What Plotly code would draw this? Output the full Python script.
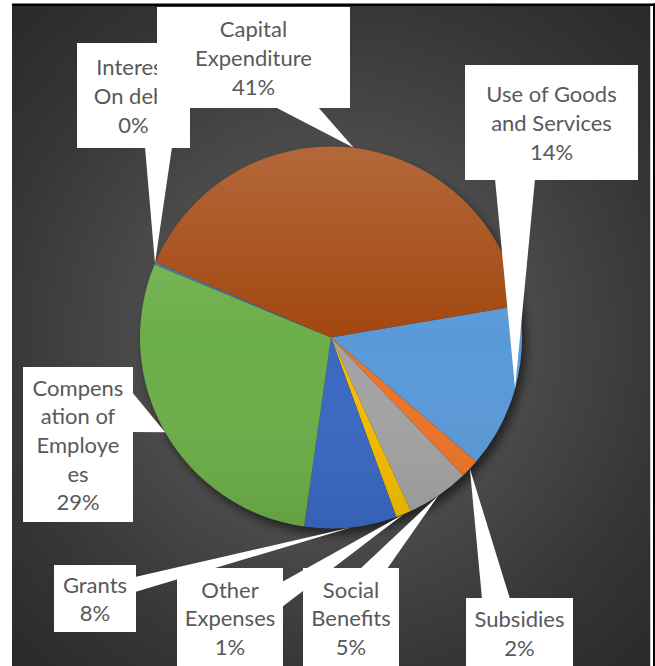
import base64
import math
import plotly.graph_objects as go

W, H = 655, 666

# ---- data -------------------------------------------------------------
categories = [
    "Capital Expenditure",
    "Use of Goods and Services",
    "Subsidies",
    "Social Benefits",
    "Other Expenses",
    "Grants",
    "Compensation of Employees",
    "Interest On debt",
]
shares = [40.9, 13.9, 1.6, 5.3, 1.3, 7.8, 29.0, 0.2]
callout_text = [
    "Capital<br>Expenditure",
    "Use of Goods<br>and Services",
    "Subsidies",
    "Social<br>Benefits",
    "Other<br>Expenses",
    "Grants",
    "Compens<br>ation of<br>Employe<br>es",
    "Interest<br>On debt",
]
slice_colors = ["#A3470F", "#5A99D8", "#EC7426", "#A3A3A3",
                "#F4BD00", "#3A68C2", "#6CAE48", "#41709F"]

# ---- layout (pixels) --------------------------------------------------
PIE_CX, PIE_CY, PIE_R = 331, 337.5, 191
ROTATION = 293.2
PANEL = (12, 6, 650.5, 666)          # dark chart area x0, y0, x1, y1

# callout boxes (x0, y0, x1, y1) and pointer base (two points on the box edge)
callouts = {
    "Capital Expenditure": ((157, 7, 350, 108), ((275, 107), (318, 107))),
    "Use of Goods and Services": ((465, 65, 638, 180), ((495, 179), (535, 179))),
    "Subsidies": ((466, 598, 573, 668), ((482, 599), (510, 599))),
    "Social Benefits": ((303, 568, 399, 668), ((360, 569), (387, 569))),
    "Other Expenses": ((177, 568, 283, 668), ((282, 582), (282, 607))),
    "Grants": ((54, 565, 136, 632), ((135, 577), (135, 592))),
    "Compensation of Employees": ((23, 367, 133, 522), ((132, 392), (132, 432))),
    "Interest On debt": ((77, 43, 190, 148), ((145, 147), (172, 147))),
}
draw_order = ["Interest On debt", "Compensation of Employees", "Grants",
              "Other Expenses", "Social Benefits", "Subsidies",
              "Use of Goods and Services", "Capital Expenditure"]

FONT = dict(family="Lato, Open Sans, sans-serif", size=22, color="#595959")


def px(x):
    return x / W


def py(y):
    return 1 - y / H


def svg_uri(markup):
    return "data:image/svg+xml;base64," + base64.b64encode(markup.encode()).decode()


# ---- background: radial gradient with a soft shadow under the pie -----
bx0, by0, bx1, by1 = PANEL
bw, bh = bx1 - bx0, by1 - by0
gcx, gcy = PIE_CX - bx0, PIE_CY - by0
bg_svg = f"""<svg xmlns="http://www.w3.org/2000/svg" width="{bw}" height="{bh}" viewBox="0 0 {bw} {bh}" preserveAspectRatio="none">
<defs>
<radialGradient id="g" gradientUnits="userSpaceOnUse" cx="{gcx}" cy="{gcy}" r="470">
<stop offset="0" stop-color="#5e5e5e"/>
<stop offset="0.42" stop-color="#4a4a4a"/>
<stop offset="0.72" stop-color="#363636"/>
<stop offset="1" stop-color="#282828"/>
</radialGradient>
<filter id="b" x="-30%" y="-30%" width="160%" height="160%"><feGaussianBlur stdDeviation="5"/></filter>
</defs>
<rect x="0" y="0" width="{bw}" height="{bh}" fill="url(#g)"/>
<circle cx="{gcx + 4}" cy="{gcy + 6}" r="{PIE_R}" fill="#000" fill-opacity="0.55" filter="url(#b)"/>
</svg>"""

# light-to-dark sheen laid over the pie disc
d = 2 * PIE_R
sheen_svg = f"""<svg xmlns="http://www.w3.org/2000/svg" width="{d}" height="{d}" viewBox="0 0 {d} {d}">
<defs>
<linearGradient id="s" x1="0" y1="0" x2="0" y2="1">
<stop offset="0" stop-color="#ffffff" stop-opacity="0.18"/>
<stop offset="0.5" stop-color="#ffffff" stop-opacity="0"/>
<stop offset="1" stop-color="#000000" stop-opacity="0.08"/>
</linearGradient>
</defs>
<circle cx="{PIE_R}" cy="{PIE_R}" r="{PIE_R}" fill="url(#s)"/>
</svg>"""

# ---- pie --------------------------------------------------------------
fig = go.Figure(
    go.Pie(
        labels=categories,
        values=shares,
        sort=False,
        direction="clockwise",
        rotation=ROTATION,
        textinfo="none",
        hoverinfo="label+percent",
        marker=dict(colors=slice_colors, line=dict(width=0)),
        domain=dict(
            x=[px(PIE_CX - PIE_R), px(PIE_CX + PIE_R)],
            y=[py(PIE_CY + PIE_R), py(PIE_CY - PIE_R)],
        ),
        showlegend=False,
    )
)

# ---- callouts: pointer wedges reach the rim at each slice's mid angle --
total = sum(shares)
shapes = []
annotations = []
tips = {}
cum = 0.0
for name, v in zip(categories, shares):
    mid = math.radians(ROTATION + (cum + v / 2) / total * 360)
    tips[name] = (PIE_CX + PIE_R * math.sin(mid), PIE_CY - PIE_R * math.cos(mid))
    cum += v

for name in draw_order:
    (x0, y0, x1, y1), (b1, b2) = callouts[name]
    tx, ty = tips[name]
    path = (f"M {px(b1[0])} {py(b1[1])} L {px(tx)} {py(ty)} "
            f"L {px(b2[0])} {py(b2[1])} Z")
    shapes.append(dict(type="path", xref="paper", yref="paper", path=path,
                       fillcolor="white", line=dict(width=0), layer="above"))

for name in draw_order:
    i = categories.index(name)
    (x0, y0, x1, y1), _ = callouts[name]
    pct = round(shares[i] / total * 100)
    annotations.append(dict(
        xref="paper", yref="paper",
        x=px((x0 + x1) / 2), y=py((y0 + y1) / 2),
        xanchor="center", yanchor="middle",
        width=x1 - x0, height=y1 - y0,
        text=f"{callout_text[i]}<br>{pct}%",
        showarrow=False, align="center", valign="middle",
        bgcolor="white", borderpad=0, borderwidth=0,
        font=FONT,
    ))

# frame lines along the top and right edge
shapes.append(dict(type="rect", xref="paper", yref="paper",
                   x0=px(12), x1=px(W + 2), y0=py(6), y1=py(3.5),
                   fillcolor="black", line=dict(width=0), layer="above"))
shapes.append(dict(type="rect", xref="paper", yref="paper",
                   x0=px(653), x1=px(W + 2), y0=py(H + 2), y1=py(3.5),
                   fillcolor="black", line=dict(width=0), layer="above"))

fig.update_layout(
    width=W, height=H,
    margin=dict(l=0, r=0, t=0, b=0),
    paper_bgcolor="white",
    plot_bgcolor="white",
    images=[
        dict(source=svg_uri(bg_svg), xref="paper", yref="paper",
             x=px(bx0), y=py(by0), sizex=bw / W, sizey=bh / H,
             xanchor="left", yanchor="top", sizing="stretch", layer="below"),
        dict(source=svg_uri(sheen_svg), xref="paper", yref="paper",
             x=px(PIE_CX - PIE_R), y=py(PIE_CY - PIE_R),
             sizex=d / W, sizey=d / H,
             xanchor="left", yanchor="top", sizing="stretch", layer="above"),
    ],
    shapes=shapes,
    annotations=annotations,
)

fig.write_html("out.html")
